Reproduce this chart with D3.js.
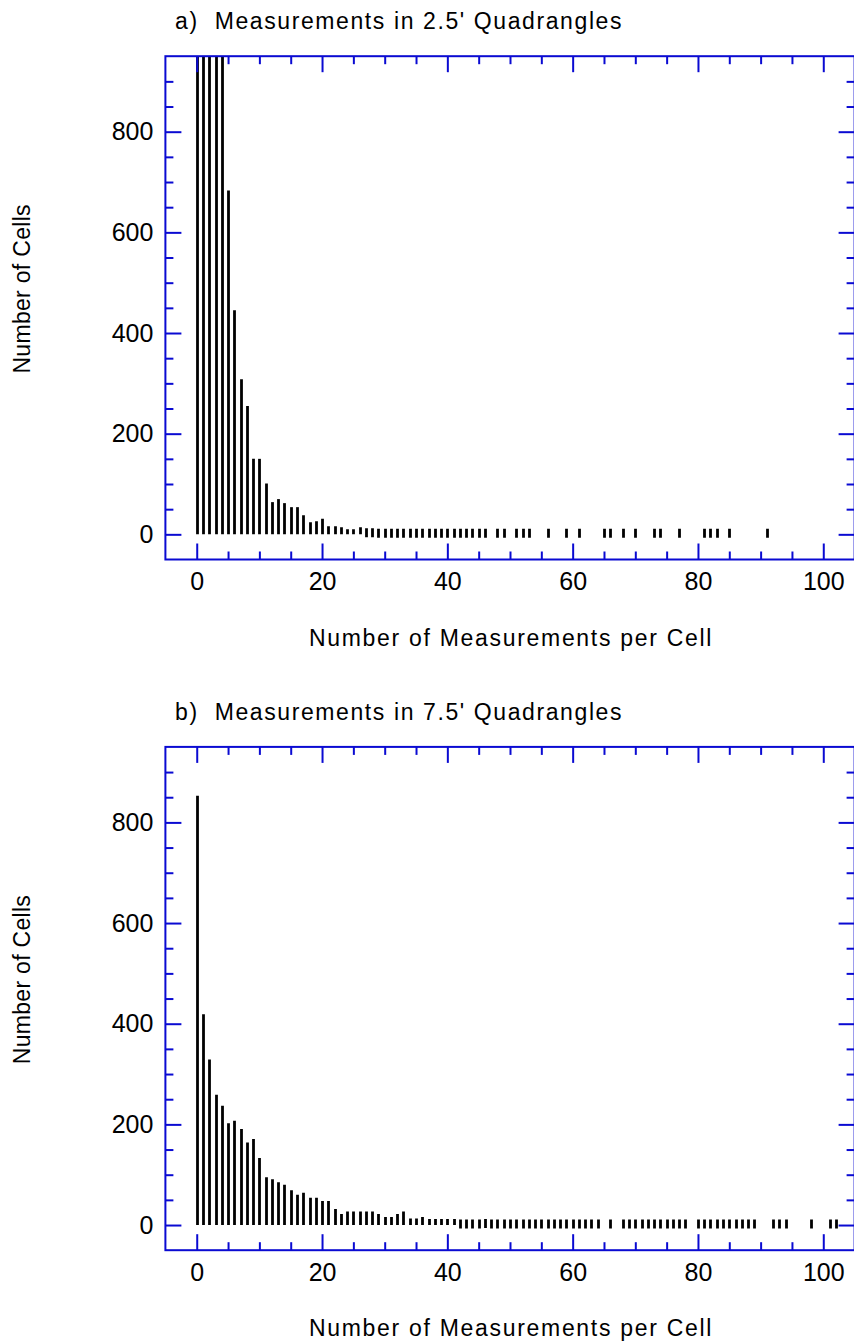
<!DOCTYPE html>
<html>
<head>
<meta charset="utf-8">
<script src="https://cdn.jsdelivr.net/npm/d3@7"></script>
<style>
  body { margin: 0; background: #fff; }
  text { font-family: "Liberation Sans", Arial, Helvetica, sans-serif; fill: #000; }
</style>
</head>
<body>
<svg id="chart" width="854" height="1342"></svg>
<script>
// panel a: counts per bin, 2.5' quadrangles
var binsA = [0, 1, 2, 3, 4, 5, 6, 7, 8, 9, 10, 11, 12, 13, 14, 15, 16, 17, 18, 19, 20,
  21, 22, 23, 24, 25, 26, 27, 28, 29, 30, 31, 32, 33, 34, 35, 36, 37, 38, 39, 40,
  41, 42, 43, 44, 45, 46, 48, 49, 51, 52, 53, 56, 59, 61, 65, 66, 68, 70, 73, 74,
  77, 81, 82, 83, 85, 91];
var countsA = [1600, 1350, 1150, 1050, 980, 683, 445, 308, 255, 150, 150, 101, 64, 70, 62, 54, 54, 38, 24, 26, 31,
  16, 16, 14, 10, 10, 14, 3, 3, 2, 2, 2, 2, 2, 2, 2, 2, 2, 2, 2, 2,
  2, 2, 2, 2, 2, 2, 2, 2, 2, 2, 2, 2, 2, 2, 2, 2, 2, 2, 2, 2,
  2, 2, 2, 2, 2, 2];

// panel b: counts per bin, 7.5' quadrangles
var binsB = [0, 1, 2, 3, 4, 5, 6, 7, 8, 9, 10, 11, 12, 13, 14, 15, 16, 17, 18, 19, 20,
  21, 22, 23, 24, 25, 26, 27, 28, 29, 30, 31, 32, 33, 34, 35, 36, 37, 38, 39, 40,
  41, 42, 43, 44, 45, 46, 47, 48, 49, 50, 51, 52, 53, 54, 55, 56, 57, 58, 59, 60,
  61, 62, 63, 64, 66, 68, 69, 70, 71, 72, 73, 74, 75, 76, 77, 78, 80, 81, 82, 83,
  84, 85, 86, 87, 88, 89, 92, 93, 94, 98, 101, 102];
var countsB = [853, 419, 329, 259, 237, 202, 207, 191, 164, 171, 133, 95, 91, 85, 80, 69, 60, 64, 54, 54, 48,
  48, 32, 22, 27, 27, 27, 27, 27, 22, 16, 16, 22, 27, 13, 13, 16, 12, 12, 12, 12,
  12, 2, 2, 2, 2, 3, 2, 2, 2, 2, 2, 2, 2, 2, 2, 2, 2, 2, 2, 2,
  2, 2, 2, 2, 2, 2, 2, 2, 2, 2, 2, 2, 2, 2, 2, 2, 2, 2, 2, 2,
  2, 2, 2, 2, 2, 2, 2, 2, 2, 2, 2, 2];

var xMajor = [0, 20, 40, 60, 80, 100];
var xMinor = [5, 10, 15, 25, 30, 35, 45, 50, 55, 65, 70, 75, 85, 90, 95];
var yMajor = [0, 200, 400, 600, 800];
var yMinor = [50, 100, 150, 250, 300, 350, 450, 500, 550, 650, 700, 750, 850, 900];

var titles = ["a)  Measurements in 2.5' Quadrangles", "b)  Measurements in 7.5' Quadrangles"];
var xTitle = "Number of Measurements per Cell";
var yTitle = "Number of Cells";

var blue = "#0a0ad2";
var svg = d3.select("#chart");

var x = d3.scaleLinear().domain([-5, 105]).range([165.4, 854.6]);

function drawPanel(idx, bins, counts, top) {
  var y = d3.scaleLinear().domain([-50, 950]).range([top + 503.3, top]);
  var g = svg.append("g").attr("class", "panel");
  var clipId = "clip" + idx;

  g.append("clipPath").attr("id", clipId)
    .append("rect")
    .attr("x", x(-5)).attr("y", y(950))
    .attr("width", x(105) - x(-5)).attr("height", y(-50) - y(950));

  var data = bins.map(function (b, i) { return { bin: b, n: counts[i] }; });

  // histogram sticks; very small counts are drawn as a short centred dash
  g.append("g").attr("clip-path", "url(#" + clipId + ")")
    .selectAll("line").data(data).enter().append("line")
    .attr("x1", function (d) { return Math.round(x(d.bin)) + 0.5; })
    .attr("x2", function (d) { return Math.round(x(d.bin)) + 0.5; })
    .attr("y1", function (d) { return d.n < 5 ? y(d.n) + 4.5 : y(0); })
    .attr("y2", function (d) { return d.n < 5 ? y(d.n) - 4.5 : y(d.n); })
    .attr("stroke", "#000")
    .attr("stroke-width", 2.8);

  var bottom = y(-50), topY = y(950), left = x(-5), right = x(105);

  function styleAxis(sel) {
    sel.select(".domain").remove();
    sel.selectAll(".tick line").attr("stroke", blue).attr("stroke-width", 2);
    sel.selectAll(".tick text").attr("fill", "#000")
      .style("font-family", '"Liberation Sans", Arial, sans-serif')
      .style("font-size", "25px");
  }

  // bottom axis with labels
  g.append("g").attr("transform", "translate(0," + bottom + ")")
    .call(d3.axisBottom(x).tickValues(xMajor).tickSizeInner(-16).tickSizeOuter(0).tickPadding(13))
    .call(styleAxis);
  g.append("g").attr("transform", "translate(0," + bottom + ")")
    .call(d3.axisBottom(x).tickValues(xMinor).tickSizeInner(-8).tickSizeOuter(0).tickFormat(""))
    .call(styleAxis);
  // top axis, ticks only
  g.append("g").attr("transform", "translate(0," + topY + ")")
    .call(d3.axisTop(x).tickValues(xMajor).tickSizeInner(-16).tickSizeOuter(0).tickFormat(""))
    .call(styleAxis);
  g.append("g").attr("transform", "translate(0," + topY + ")")
    .call(d3.axisTop(x).tickValues(xMinor).tickSizeInner(-8).tickSizeOuter(0).tickFormat(""))
    .call(styleAxis);
  // left axis with labels
  g.append("g").attr("transform", "translate(" + left + ",0)")
    .call(d3.axisLeft(y).tickValues(yMajor).tickSizeInner(-16).tickSizeOuter(0).tickPadding(12))
    .call(styleAxis);
  g.append("g").attr("transform", "translate(" + left + ",0)")
    .call(d3.axisLeft(y).tickValues(yMinor).tickSizeInner(-8).tickSizeOuter(0).tickFormat(""))
    .call(styleAxis);
  // right axis, ticks only
  g.append("g").attr("transform", "translate(" + right + ",0)")
    .call(d3.axisRight(y).tickValues(yMajor).tickSizeInner(-16).tickSizeOuter(0).tickFormat(""))
    .call(styleAxis);
  g.append("g").attr("transform", "translate(" + right + ",0)")
    .call(d3.axisRight(y).tickValues(yMinor).tickSizeInner(-8).tickSizeOuter(0).tickFormat(""))
    .call(styleAxis);

  // frame
  g.append("rect")
    .attr("x", left).attr("y", topY)
    .attr("width", right - left).attr("height", bottom - topY)
    .attr("fill", "none").attr("stroke", blue).attr("stroke-width", 2);

  g.append("text")
    .attr("x", 175).attr("y", topY - 27)
    .style("font-size", "23px")
    .style("white-space", "pre")
    .style("letter-spacing", "1.6px")
    .text(titles[idx]);

  g.append("text")
    .attr("x", (x(-5) + x(105)) / 2 + 1).attr("y", bottom + 86)
    .attr("text-anchor", "middle")
    .style("font-size", "23px")
    .style("letter-spacing", "1.7px")
    .text(xTitle);

  g.append("text")
    .attr("transform", "translate(30," + (y(450) - 19) + ") rotate(-90)")
    .attr("text-anchor", "middle")
    .style("font-size", "23px")
    .style("letter-spacing", "0.3px")
    .text(yTitle);
}

drawPanel(0, binsA, countsA, 56.2);
drawPanel(1, binsB, countsB, 746.9);
</script>
</body>
</html>
